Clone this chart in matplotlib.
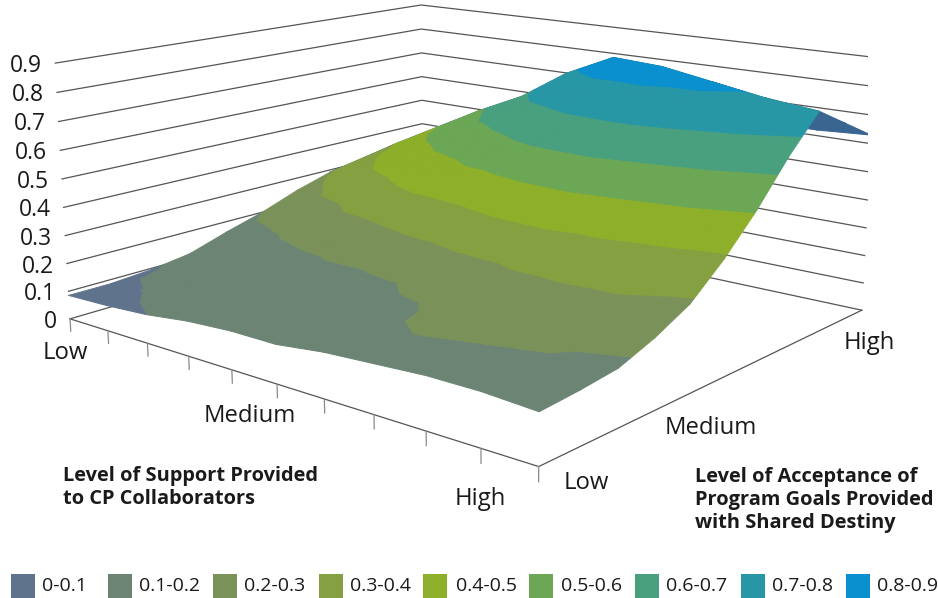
import numpy as np
import matplotlib
matplotlib.use('Agg')
import matplotlib.pyplot as plt
from matplotlib.patches import Rectangle
from mpl_toolkits.mplot3d import proj3d
from mpl_toolkits.mplot3d.art3d import Poly3DCollection

W, H = 938, 598

SUPPORT_TICKS = list(range(11))
ACCEPT_TICKS = list(range(11))
Z_TICKS = [0, 0.1, 0.2, 0.3, 0.4, 0.5, 0.6, 0.7, 0.8, 0.9]
Z_LABELS = ['0', '0.1', '0.2', '0.3', '0.4', '0.5', '0.6', '0.7', '0.8', '0.9']
BANDS = ['0-0.1', '0.1-0.2', '0.2-0.3', '0.3-0.4', '0.4-0.5', '0.5-0.6', '0.6-0.7', '0.7-0.8', '0.8-0.9']
COLORS = ['#60738c', '#6c8473', '#7a9259', '#84a040', '#8eaf2a', '#6ca755', '#49a07e', '#2897a5', '#0a90cf']
BACK_COLOR = '#3a6591'

# rows: support low to high, columns: acceptance low to high
SUPPORT_00 = [.085, .085, .095, .115, .16, .20, .25, .29, .31, .25, .18]
SUPPORT_01 = [.09, .102, .125, .15, .19, .26, .32, .37, .41, .32, .22]
SUPPORT_02 = [.10, .115, .14, .17, .22, .30, .40, .46, .50, .40, .30]
SUPPORT_03 = [.12, .13, .15, .18, .24, .37, .46, .54, .59, .48, .38]
SUPPORT_04 = [.13, .15, .16, .18, .28, .41, .51, .62, .67, .56, .45]
SUPPORT_05 = [.13, .16, .18, .20, .30, .43, .58, .71, .78, .66, .55]
SUPPORT_06 = [.15, .18, .19, .22, .33, .47, .64, .77, .86, .73, .60]
SUPPORT_07 = [.16, .20, .225, .26, .34, .48, .65, .78, .85, .75, .62]
SUPPORT_08 = [.17, .195, .21, .27, .34, .45, .61, .78, .82, .74, .62]
SUPPORT_09 = [.17, .19, .205, .27, .33, .42, .57, .72, .79, .73, .62]
SUPPORT_10 = [.16, .17, .185, .23, .29, .39, .51, .65, .77, .70, .63]

surface = np.array([SUPPORT_00, SUPPORT_01, SUPPORT_02, SUPPORT_03, SUPPORT_04, SUPPORT_05,
                    SUPPORT_06, SUPPORT_07, SUPPORT_08, SUPPORT_09, SUPPORT_10])


def clip_band(tri, low, high):
    # keep the part of a polygon lying between two heights
    poly = tri
    for level, keep_above in ((low, True), (high, False)):
        out = []
        for k in range(len(poly)):
            a, b = poly[k], poly[(k + 1) % len(poly)]
            ina = a[2] >= level if keep_above else a[2] <= level
            inb = b[2] >= level if keep_above else b[2] <= level
            if ina:
                out.append(a)
            if ina != inb:
                t = (level - a[2]) / (b[2] - a[2])
                out.append(tuple(a[i] + t * (b[i] - a[i]) for i in range(3)))
        poly = out
        if len(poly) < 3:
            return []
    return poly


def signed_area(ax, pts):
    x, y, _ = proj3d.proj_transform(*np.array(pts).T, ax.get_proj())
    return 0.5 * ((x[1] - x[0]) * (y[2] - y[0]) - (x[2] - x[0]) * (y[1] - y[0]))


def build_polys(ax):
    polys, colors = [], []
    for i in range(len(SUPPORT_TICKS) - 1):
        for j in range(len(ACCEPT_TICKS) - 1):
            p00 = (SUPPORT_TICKS[i], ACCEPT_TICKS[j], surface[i, j])
            p10 = (SUPPORT_TICKS[i + 1], ACCEPT_TICKS[j], surface[i + 1, j])
            p01 = (SUPPORT_TICKS[i], ACCEPT_TICKS[j + 1], surface[i, j + 1])
            p11 = (SUPPORT_TICKS[i + 1], ACCEPT_TICKS[j + 1], surface[i + 1, j + 1])
            for tri in ((p00, p10, p11), (p00, p11, p01)):
                flat = [(q[0], q[1], 0) for q in tri]
                if signed_area(ax, tri) * signed_area(ax, flat) < 0:
                    polys.append(list(tri))
                    colors.append(BACK_COLOR)
                    continue
                for b, color in enumerate(COLORS):
                    part = clip_band(list(tri), b / 10, (b + 1) / 10)
                    if part:
                        polys.append(part)
                        colors.append(color)
    return polys, colors


def fig_text(fig, px, py, s, **kw):
    return fig.text(px / W, 1 - py / H, s, family='Open Sans', color='#1a1a1a', **kw)


def to_pixels(ax, x, y, z):
    u, v, _ = proj3d.proj_transform(x, y, z, ax.get_proj())
    d = ax.transData.transform((u, v))
    return d[0], H - d[1]


def main():
    fig = plt.figure(figsize=(W / 100, H / 100), dpi=100)
    size = 1.3754
    ax = fig.add_axes([0.4872 - size * H / W / 2, 0.6644 - size / 2, size * H / W, size], projection='3d')
    ax.set_xlim(0, 10)
    ax.set_ylim(0, 10)
    ax.set_zlim(0, 0.9)
    ax.view_init(13.7091, -49.8187, 0.1228)
    ax.set_proj_type('persp', focal_length=0.4007)
    ax.set_box_aspect((2.2950, 2.0542, 1))
    ax.apply_aspect()
    ax.set_axis_off()
    ax.computed_zorder = False

    line = dict(color='#555555', lw=0.9, zorder=1)
    for z, label in zip(Z_TICKS, Z_LABELS):
        ax.plot([0, 0, 10], [0, 10, 10], [z, z, z], **line)
        px, py = to_pixels(ax, 0, 0, z)
        fig_text(fig, px - 13, py + 3, label, ha='right', va='center', fontsize=16.5)
    ax.plot([0, 10, 10], [0, 0, 10], [0, 0, 0], **line)
    for x in SUPPORT_TICKS:
        ax.plot([x, x], [0, 0], [0, -0.045], color='#8a8a8a', lw=0.9, zorder=1)

    polys, colors = build_polys(ax)
    ax.add_collection3d(Poly3DCollection(polys, facecolors=colors, edgecolors=colors,
                                         linewidths=0.7, zorder=2))

    fig_text(fig, 65, 353, 'Low', ha='center', va='center', fontsize=17.2)
    fig_text(fig, 250, 416, 'Medium', ha='center', va='center', fontsize=17.2)
    fig_text(fig, 480, 499, 'High', ha='center', va='center', fontsize=17.2)
    fig_text(fig, 586, 483, 'Low', ha='center', va='center', fontsize=17.2)
    fig_text(fig, 711, 428, 'Medium', ha='center', va='center', fontsize=17.2)
    fig_text(fig, 869, 343, 'High', ha='center', va='center', fontsize=17.2)

    fig_text(fig, 63, 487, 'Level of Support Provided\nto CP Collaborators', ha='left', va='center',
             fontsize=14.4, fontweight='bold', linespacing=1.2)
    fig_text(fig, 695, 500, 'Level of Acceptance of\nProgram Goals Provided\nwith Shared Destiny', ha='left',
             va='center', fontsize=14.4, fontweight='bold', linespacing=1.2)

    swatch_x = [11, 108, 213, 319, 423, 529, 635, 741, 846]
    label_x = [42, 139, 244, 350, 456, 561, 666, 772, 877]
    for sx, lx, color, band in zip(swatch_x, label_x, COLORS, BANDS):
        fig.add_artist(Rectangle((sx / W, 0), 24 / W, 24 / H, transform=fig.transFigure,
                                 facecolor=color, edgecolor='none'))
        fig_text(fig, lx, 586, band, ha='left', va='center', fontsize=14)

    fig.savefig('out.png', dpi=100)


if __name__ == "__main__":
    main()
